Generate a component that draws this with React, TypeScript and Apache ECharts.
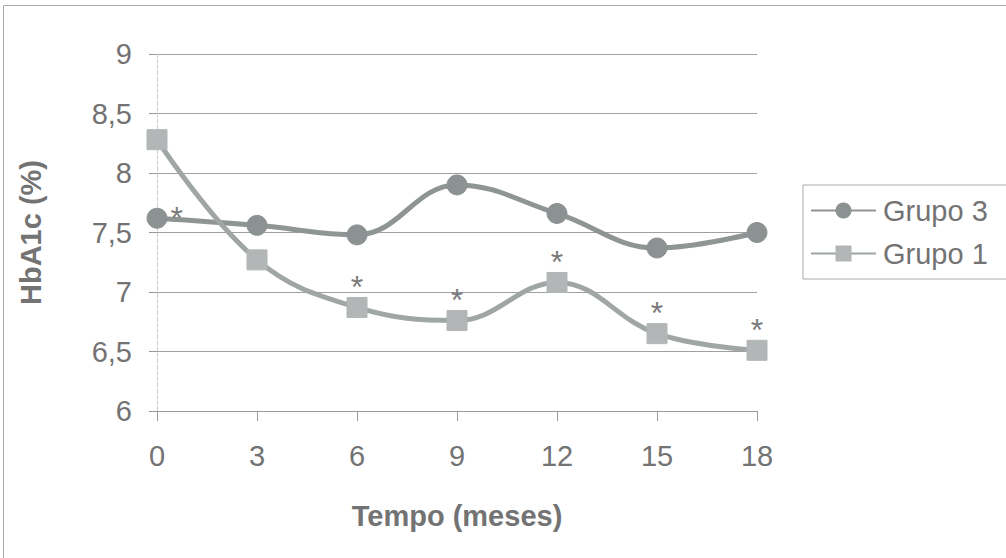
import React, { useEffect, useRef } from "react";
import * as echarts from "echarts";

const months = ["0", "3", "6", "9", "12", "15", "18"];
const grupo3 = [7.62, 7.56, 7.48, 7.9, 7.66, 7.37, 7.5];
const grupo1 = [8.28, 7.27, 6.87, 6.76, 7.08, 6.65, 6.51];
const sig3 = [true, false, false, false, false, false, false];
const sig1 = [false, false, true, true, true, true, true];
const yTicks = [6, 6.5, 7, 7.5, 8, 8.5, 9];

const FONT = "'Liberation Sans', Arial, sans-serif";
const TXT = "#737373";

export default function App() {
  const ref = useRef<HTMLDivElement>(null);
  useEffect(() => {
    const chart = echarts.init(ref.current!, null, { renderer: "svg" });
    const star = {
      show: true,
      formatter: "*",
      fontSize: 32,
      color: "#7a7a7a",
      fontFamily: FONT,
    };
    chart.setOption({
      animation: false,
      backgroundColor: "#fff",
      textStyle: { fontFamily: FONT },
      graphic: [
        {
          type: "rect",
          shape: { x: 3.5, y: 5.5, width: 1010, height: 560 },
          style: { fill: "none", stroke: "#aaa", lineWidth: 1 },
          silent: true,
        },
      ],
      grid: { left: 157, right: 249, top: 54, bottom: 147 },
      legend: {
        orient: "vertical",
        left: 803,
        top: 185,
        width: 210,
        padding: [11, 40, 11, 7],
        itemGap: 14,
        itemWidth: 65,
        itemHeight: 20,
        borderColor: "#aaa",
        borderWidth: 1,
        textStyle: { fontSize: 29, color: TXT, fontFamily: FONT, padding: [0, 0, 0, 2] },
        data: ["Grupo 3", "Grupo 1"],
      },
      xAxis: {
        type: "category",
        data: months,
        boundaryGap: false,
        name: "Tempo (meses)",
        nameLocation: "middle",
        nameGap: 90,
        nameTextStyle: { fontSize: 29, fontWeight: "bold", color: TXT, fontFamily: FONT },
        axisLine: { lineStyle: { color: "#999", width: 1 } },
        axisTick: { show: true, alignWithLabel: true, length: 10, lineStyle: { color: "#999" } },
        axisLabel: { fontSize: 29, color: TXT, margin: 30, fontFamily: FONT },
        splitLine: { show: false },
      },
      yAxis: {
        type: "value",
        min: 6,
        max: 9,
        interval: 0.5,
        name: "HbA1c (%)",
        nameLocation: "middle",
        nameGap: 112,
        nameRotate: 90,
        nameTextStyle: { fontSize: 29, fontWeight: "bold", color: TXT, fontFamily: FONT },
        axisLine: { show: true, lineStyle: { color: "#ccc", type: "dashed", width: 1 } },
        axisTick: { show: true, length: 8, lineStyle: { color: "#999" } },
        axisLabel: {
          fontSize: 29,
          color: TXT,
          margin: 25,
          fontFamily: FONT,
          formatter: (v: number) => (yTicks.includes(v) ? String(v).replace(".", ",") : ""),
        },
        splitLine: { show: true, lineStyle: { color: "#a0a0a0", width: 1 } },
      },
      series: [
        {
          name: "Grupo 3",
          type: "line",
          smooth: 0.4,
          symbol: "circle",
          symbolSize: 20,
          itemStyle: { color: "#8c9292", borderColor: "#8c9292" },
          lineStyle: { color: "#8f9494", width: 5 },
          data: grupo3.map((v, i) => ({
            value: v,
            label: sig3[i] ? { ...star, position: "right", distance: 3, offset: [0, 0] } : { show: false },
          })),
        },
        {
          name: "Grupo 1",
          type: "line",
          smooth: 0.4,
          symbol: "rect",
          symbolSize: 20,
          itemStyle: { color: "#b2b6b6", borderColor: "#b2b6b6" },
          lineStyle: { color: "#a0a5a5", width: 5 },
          data: grupo1.map((v, i) => ({
            value: v,
            label: sig1[i] ? { ...star, position: "top", distance: -6 } : { show: false },
          })),
        },
      ],
    });
    return () => chart.dispose();
  }, []);
  return (
    <div
      ref={ref}
      style={{ position: "fixed", left: 0, top: 0, width: 1006, height: 558 }}
    />
  );
}
